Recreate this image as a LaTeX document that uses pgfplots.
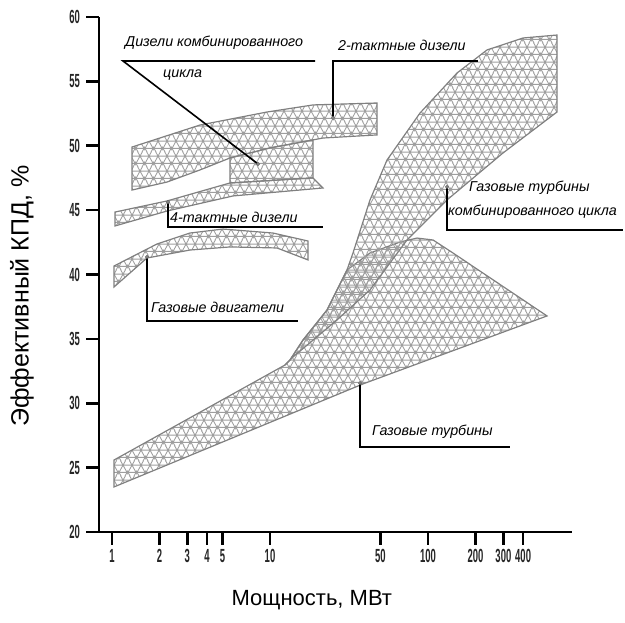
\documentclass[border=0pt]{standalone}
\usepackage{fontspec}
\setmainfont{Liberation Sans}
\newfontfamily\tickfont[FakeStretch=0.5]{Liberation Sans}
\usepackage{pgfplots}
\pgfplotsset{compat=1.18}
\usetikzlibrary{patterns}
\pgfdeclarepatternformonly{trimesh}{\pgfqpoint{0pt}{0pt}}{\pgfqpoint{8.5pt}{14.72pt}}{\pgfqpoint{8.5pt}{14.72pt}}{%
  \pgfsetlinewidth{0.9pt}%
  \pgfpathmoveto{\pgfqpoint{-1pt}{3.68pt}}\pgfpathlineto{\pgfqpoint{9.5pt}{3.68pt}}%
  \pgfpathmoveto{\pgfqpoint{-1pt}{11.04pt}}\pgfpathlineto{\pgfqpoint{9.5pt}{11.04pt}}%
  \pgfpathmoveto{\pgfqpoint{-6.375pt}{-7.36pt}}\pgfpathlineto{\pgfqpoint{10.625pt}{22.08pt}}%
  \pgfpathmoveto{\pgfqpoint{2.125pt}{-7.36pt}}\pgfpathlineto{\pgfqpoint{19.125pt}{22.08pt}}%
  \pgfpathmoveto{\pgfqpoint{6.375pt}{-7.36pt}}\pgfpathlineto{\pgfqpoint{-10.625pt}{22.08pt}}%
  \pgfpathmoveto{\pgfqpoint{14.875pt}{-7.36pt}}\pgfpathlineto{\pgfqpoint{-2.125pt}{22.08pt}}%
  \pgfusepath{stroke}}
\tikzset{region/.style={draw=black!50, line width=1.2pt, pattern=trimesh, pattern color=black!38, mark=none}}
\newcommand{\ann}{\fontsize{14.3}{17}\selectfont\itshape}
\begin{document}
\begin{tikzpicture}
\useasboundingbox (0,0) rectangle (625pt,623pt);
\begin{axis}[
  at={(99pt,91pt)}, anchor=south west,
  scale only axis, width=473pt, height=515pt,
  xmode=log, xmin=0.8275, xmax=815.3, ymin=20, ymax=60,
  axis lines=left, axis line style={-, line width=2.6pt},
  clip=false,
  xtick={1,2,3,4,5,10,50,100,200,300,400},
  xticklabels={1,2,3,4,5,10,50,100,200,300,400},
  minor xtick={},
  ytick={20,25,30,35,40,45,50,55,60},
  yticklabels={20,25,30,35,40,45,50,55,60},
  tick align=outside, major tick length=13pt,
  every tick/.style={black, line width=2.6pt},
  ticklabel style={font=\tickfont\bfseries\fontsize{19}{19}\selectfont, text=black!85},
  xticklabel style={inner sep=0pt, yshift=-4pt},
  yticklabel style={inner sep=0pt, xshift=-6pt},
]
% Gas turbines
\addplot[region] coordinates {(1.030,25.59) (12.44,32.97) (13.38,33.36) (16.18,34.91) (22.95,37.24) (30.72,40.35) (42.95,41.67) (66.50,42.52) (85.20,42.83) (107.6,42.68) (143.9,41.67) (566.4,36.78) (38.78,31.50) (1.030,23.50)} -- cycle;
% Combined cycle gas turbines
\addplot[region] coordinates {(12.44,32.97) (13.38,33.36) (16.18,34.91) (22.95,37.24) (30.72,40.35) (33.51,41.67) (42.95,45.79) (55.03,48.89) (88.99,52.54) (152.6,55.65) (236.3,57.44) (399.4,58.37) (655.3,58.60) (655.3,52.62) (298.4,49.44) (131.9,45.79) (73.64,42.68) (42.95,38.80) (26.56,36.47) (13.98,33.59)} -- cycle;
% 2-stroke diesels
\addplot[region] coordinates {(1.339,49.90) (3.606,51.61) (9.572,52.62) (18.72,53.17) (47.56,53.32) (47.56,50.84) (21.65,50.60) (10,49.83) (5.582,49.05) (3.606,48.12) (2.229,47.18) (1.339,46.56)} -- cycle;
% Combined cycle diesels
\addplot[region] coordinates {(5.582,49.05) (10,49.83) (18.72,50.45) (18.72,47.50) (5.582,47.11)} -- cycle;
% 4-stroke diesels
\addplot[region] coordinates {(1.045,44.85) (2.229,45.71) (5.582,47.11) (18.72,47.50) (21.65,46.72) (5.833,46.10) (2.229,44.93) (1.045,43.77)} -- cycle;
% Gas engines
\addplot[region] coordinates {(1.030,40.66) (1.927,42.37) (3.116,43.22) (5.041,43.53) (10.446,43.22) (17.40,42.60) (17.40,41.13) (11.07,42.06) (5.582,42.14) (3.116,41.90) (1.665,41.28) (1.030,39.03)} -- cycle;
% leader dots
\addplot[only marks, mark=*, mark size=1.6pt, mark options={fill=black!40, draw=black!60, line width=0.6pt}] coordinates {(8.397,48.58) (25.04,52.16) (2.262,45.63) (1.665,41.36) (131.9,46.80) (37.12,31.57)};
% leader lines
\draw[line width=1.6pt] (axis description cs:0.3362,0.7146) -- (axis description cs:0.0507,0.9146) -- (axis description cs:0.4567,0.9146);
\draw[line width=1.6pt] (axis description cs:0.4947,0.8039) -- (axis description cs:0.4947,0.9146) -- (axis description cs:0.8013,0.9146);
\draw[line width=1.6pt] (axis description cs:0.1459,0.6408) -- (axis description cs:0.1459,0.5922) -- (axis description cs:0.4736,0.5922);
\draw[line width=1.6pt] (axis description cs:0.1015,0.5340) -- (axis description cs:0.1015,0.4097) -- (axis description cs:0.4207,0.4097);
\draw[line width=1.6pt] (axis description cs:0.7357,0.6699) -- (axis description cs:0.7357,0.5864) -- (axis description cs:1.1078,0.5864);
\draw[line width=1.6pt] (axis description cs:0.5518,0.2893) -- (axis description cs:0.5518,0.1650) -- (axis description cs:0.8689,0.1650);
% labels
\node[anchor=west, inner sep=0pt, font=\ann] at (axis description cs:0.055,0.9495) {Дизели комбинированного};
\node[anchor=west, inner sep=0pt, font=\ann] at (axis description cs:0.1353,0.8874) {цикла};
\node[anchor=west, inner sep=0pt, font=\ann] at (axis description cs:0.5053,0.9456) {2-тактные дизели};
\node[anchor=west, inner sep=0pt, font=\ann] at (axis description cs:0.1501,0.6117) {4-тактные дизели};
\node[anchor=west, inner sep=0pt, font=\ann] at (axis description cs:0.1099,0.4369) {Газовые двигатели};
\node[anchor=west, inner sep=0pt, font=\ann] at (axis description cs:0.7822,0.6680) {Газовые турбины};
\node[anchor=west, inner sep=0pt, font=\ann] at (axis description cs:0.7379,0.6214) {комбинированного цикла};
\node[anchor=west, inner sep=0pt, font=\ann] at (axis description cs:0.5772,0.1942) {Газовые турбины};
% axis titles
\node[anchor=center, inner sep=0pt, font=\fontsize{22}{26}\selectfont] at (axis description cs:0.45,-0.132) {Мощность, МВт};
\node[anchor=center, rotate=90, inner sep=0pt, font=\fontsize{25}{29}\selectfont] at (axis description cs:-0.163,0.458) {Эффективный КПД, \%};
\end{axis}
\end{tikzpicture}
\end{document}
